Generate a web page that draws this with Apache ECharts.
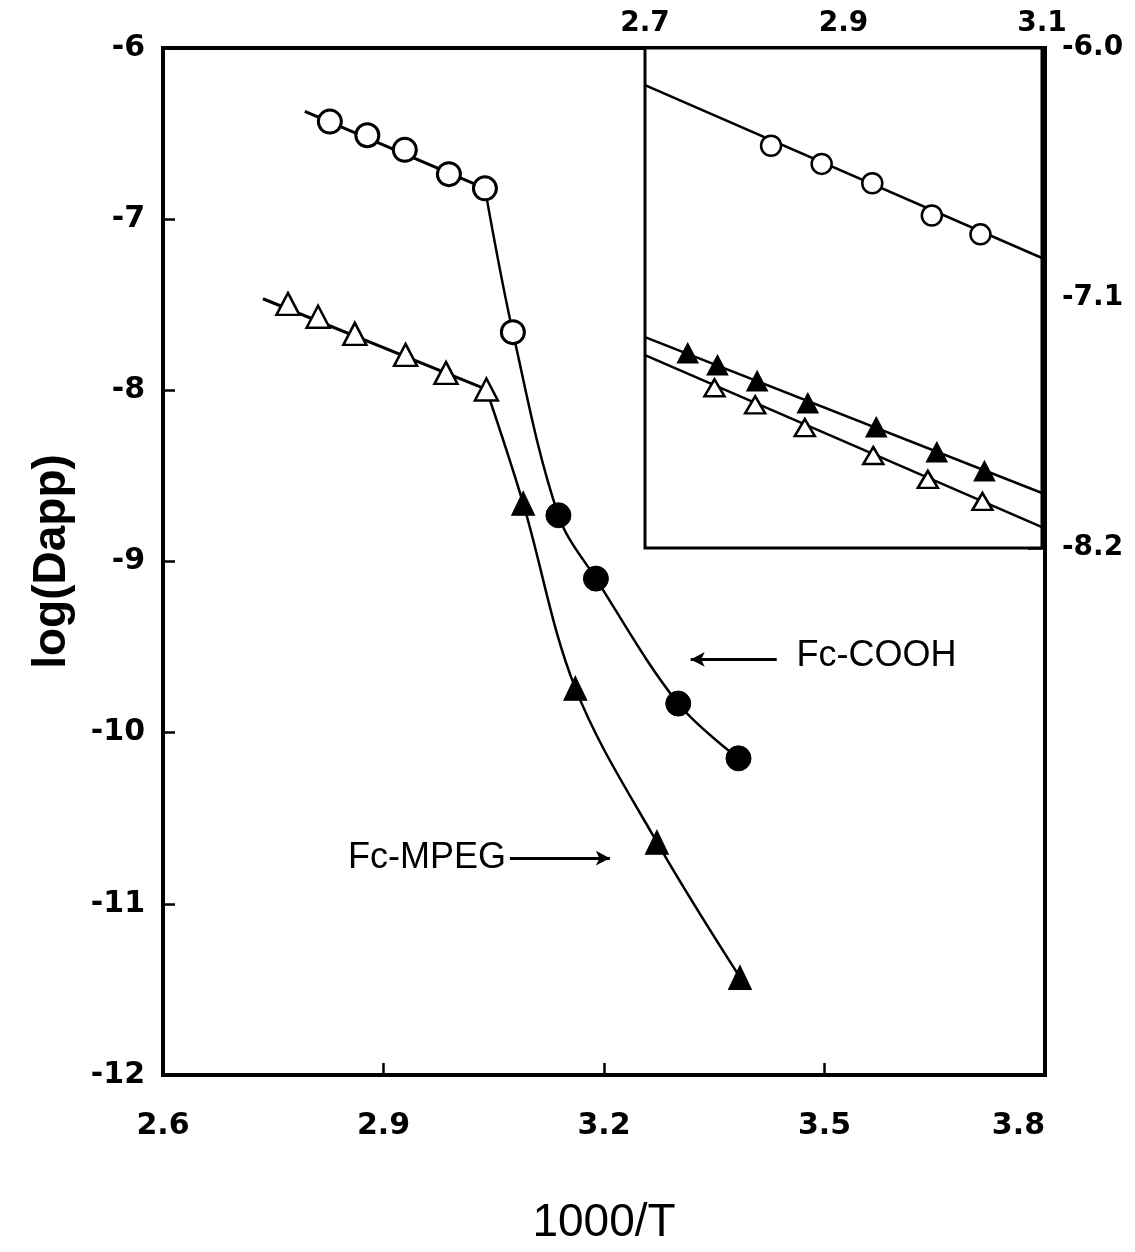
<!DOCTYPE html>
<html><head><meta charset="utf-8">
<script src="https://cdn.jsdelivr.net/npm/echarts@6/dist/echarts.min.js"></script>
<style>html,body{margin:0;padding:0;background:#fff}#c{width:1135px;height:1252px}</style>
</head><body><div id="c"></div>
<script>
// ---------- data ----------
// Fc-COOH
const coohOpenX   = [2.827, 2.878, 2.929, 2.989, 3.038];
const coohOpenY   = [-6.43, -6.51, -6.595, -6.737, -6.82];
const coohKneeX   = [3.076];
const coohKneeY   = [-7.66];
const coohFilledX = [3.138, 3.189, 3.301, 3.383];
const coohFilledY = [-8.73, -9.10, -9.83, -10.15];
// Fc-MPEG
const mpegOpenX   = [2.770, 2.811, 2.861, 2.930, 2.985, 3.040];
const mpegOpenY   = [-7.495, -7.570, -7.670, -7.793, -7.898, -7.995];
const mpegFilledX = [3.090, 3.161, 3.272, 3.385];
const mpegFilledY = [-8.66, -9.74, -10.64, -11.43];
// inset: second (filled) Fc-MPEG run
const mpegInsetFilledX = [2.743, 2.773, 2.813, 2.864, 2.933, 2.994, 3.042];
const mpegInsetFilledY = [-7.342, -7.395, -7.465, -7.562, -7.668, -7.778, -7.861];
// fitted straight lines (end points)
const coohFitMainX = [2.793, 3.038];   const coohFitMainY = [-6.37, -6.82];
const mpegFitMainX = [2.736, 3.040];   const mpegFitMainY = [-7.465, -7.995];
const coohFitInsetX = [2.7, 3.1];      const coohFitInsetY = [-6.163, -6.924];
const mpegFilledFitInsetX = [2.7, 3.1]; const mpegFilledFitInsetY = [-7.272, -7.958];
const mpegOpenFitInsetX = [2.7, 3.1];  const mpegOpenFitInsetY = [-7.351, -8.108];
// axes / ticks
const mainXTicks = ['2.6','2.9','3.2','3.5','3.8'];
const mainYTicks = ['-12','-11','-10','-9','-8','-7','-6'];
const insetXTicks = ['2.7','2.9','3.1'];
const insetYTicks = ['-8.2','-7.1','-6.0'];
// annotations (data coords)
const coohLabel = {text:'Fc-COOH', x:3.462, y:-9.55, arrowFrom:[3.435,-9.572], arrowTo:[3.318,-9.572]};
const mpegLabel = {text:'Fc-MPEG', x:3.072, y:-10.733, arrowFrom:[3.072,-10.733], arrowTo:[3.208,-10.733]};

// ---------- helpers ----------
const zip = (xs, ys) => xs.map((x, i) => [x, ys[i]]);
const FONT = 'Liberation Sans';
const TICKFONT = 'DejaVu Sans';
const BLACK = '#000';

const coohCurve = [[coohOpenX[coohOpenX.length-1], coohOpenY[coohOpenY.length-1]]]
  .concat(zip(coohKneeX, coohKneeY), zip(coohFilledX, coohFilledY));
const mpegCurve = [[mpegOpenX[mpegOpenX.length-1], mpegOpenY[mpegOpenY.length-1]]]
  .concat(zip(mpegFilledX, mpegFilledY));

function lineSeries(data, xi, w, smooth) {
  return {type:'line', xAxisIndex:xi, yAxisIndex:xi, data, symbol:'none', smooth: smooth || false,
          lineStyle:{color:BLACK, width:w}, silent:true, z:2};
}
function scatter(data, xi, symbol, size, filled, bw) {
  return {type:'scatter', xAxisIndex:xi, yAxisIndex:xi, data, symbol, symbolSize:size, silent:true, z:4,
          itemStyle:{color: filled ? BLACK : '#fff', borderColor:BLACK, borderWidth: bw, opacity:1}};
}
const tickLabel = (fs) => ({color:BLACK, fontFamily:TICKFONT, fontWeight:'bold', fontSize:fs});

const chart = echarts.init(document.getElementById('c'), null, {renderer:'canvas'});
const annotSeries = {
  type:'scatter', xAxisIndex:0, yAxisIndex:0, data:[], silent:true,
  markLine:{silent:true, animation:false, symbol:['none','arrow'], symbolSize:[11,14],
    lineStyle:{color:BLACK, width:3, type:'solid'}, label:{show:false},
    data:[[{coord:coohLabel.arrowFrom},{coord:coohLabel.arrowTo}],
          [{coord:mpegLabel.arrowFrom},{coord:mpegLabel.arrowTo}]]},
  markPoint:{silent:true, animation:false, symbol:'circle', symbolSize:0,
    data:[
      {coord:[coohLabel.x, coohLabel.y], label:{show:true, position:'right', distance:0, formatter:coohLabel.text,
        color:BLACK, fontFamily:FONT, fontSize:36}},
      {coord:[mpegLabel.x, mpegLabel.y], label:{show:true, position:'left', distance:4, formatter:mpegLabel.text,
        color:BLACK, fontFamily:FONT, fontSize:36}}
    ]}
};

chart.setOption({
  animation:false,
  backgroundColor:'#fff',
  grid:[
    {left:163, top:48, width:882, height:1027, show:true, borderColor:BLACK, borderWidth:4, backgroundColor:'transparent'},
    {left:645, top:48, width:397, height:500, show:true, borderColor:BLACK, borderWidth:3, backgroundColor:'#fff', z:3}
  ],
  xAxis:[
    {gridIndex:0, type:'value', min:2.6, max:3.8, interval:0.3, position:'bottom',
     axisLine:{show:true, onZero:false, lineStyle:{color:BLACK, width:4}},
     axisTick:{show:true, inside:true, length:12, lineStyle:{color:BLACK, width:2.5}},
     axisLabel:Object.assign(tickLabel(30), {margin:36, alignMaxLabel:'right',
       formatter:(v)=>mainXTicks[Math.round((v-2.6)/0.3)]}),
     splitLine:{show:false},
     name:'1000/T', nameLocation:'middle', nameGap:125,
     nameTextStyle:{color:BLACK, fontFamily:FONT, fontSize:46}},
    {gridIndex:1, type:'value', min:2.7, max:3.1, interval:0.2, position:'top',
     axisLine:{show:true, onZero:false, lineStyle:{color:BLACK, width:3}},
     axisTick:{show:true, inside:true, length:12, lineStyle:{color:BLACK, width:2.5}},
     axisLabel:Object.assign(tickLabel(28), {margin:10,
       formatter:(v)=>insetXTicks[Math.round((v-2.7)/0.2)]}),
     splitLine:{show:false}}
  ],
  yAxis:[
    {gridIndex:0, type:'value', min:-12, max:-6, interval:1, position:'left',
     axisLine:{show:true, onZero:false, lineStyle:{color:BLACK, width:4}},
     axisTick:{show:true, inside:true, length:12, lineStyle:{color:BLACK, width:2.5}},
     axisLabel:Object.assign(tickLabel(30), {margin:18,
       formatter:(v)=>mainYTicks[Math.round(v+12)]}),
     splitLine:{show:false},
     name:'log(Dapp)', nameLocation:'middle', nameGap:88, nameRotate:90,
     nameTextStyle:{color:BLACK, fontFamily:FONT, fontSize:46, fontWeight:'bold'}},
    {gridIndex:1, type:'value', min:-8.2, max:-6.0, interval:1.1, position:'right',
     axisLine:{show:true, onZero:false, lineStyle:{color:BLACK, width:3}},
     axisTick:{show:true, inside:true, length:14, lineStyle:{color:BLACK, width:2.5}},
     axisLabel:Object.assign(tickLabel(28), {margin:20,
       formatter:(v)=>insetYTicks[Math.round((v+8.2)/1.1)]}),
     splitLine:{show:false}}
  ],
  series:[
    // main plot lines
    lineSeries(zip(coohFitMainX, coohFitMainY), 0, 3),
    lineSeries(coohCurve, 0, 2.5, 0.35),
    lineSeries(zip(mpegFitMainX, mpegFitMainY), 0, 3),
    lineSeries(mpegCurve, 0, 2.5, 0.35),
    // main plot markers
    scatter(zip(coohOpenX, coohOpenY).concat(zip(coohKneeX, coohKneeY)), 0, 'circle', 23, false, 3),
    scatter(zip(coohFilledX, coohFilledY), 0, 'circle', 25, true, 1),
    scatter(zip(mpegOpenX, mpegOpenY), 0, 'triangle', [23, 22], false, 2.5),
    scatter(zip(mpegFilledX, mpegFilledY), 0, 'triangle', [23, 24], true, 1),
    // inset lines
    Object.assign(lineSeries(zip(coohFitInsetX, coohFitInsetY), 1, 2.5), {z:5}),
    Object.assign(lineSeries(zip(mpegFilledFitInsetX, mpegFilledFitInsetY), 1, 2.5), {z:5}),
    Object.assign(lineSeries(zip(mpegOpenFitInsetX, mpegOpenFitInsetY), 1, 2.5), {z:5}),
    // inset markers
    Object.assign(scatter(zip(coohOpenX, coohOpenY), 1, 'circle', 20, false, 2.5), {z:6}),
    Object.assign(scatter(zip(mpegInsetFilledX, mpegInsetFilledY), 1, 'triangle', [21, 20], true, 1), {z:6}),
    Object.assign(scatter(zip(mpegOpenX, mpegOpenY), 1, 'triangle', [20, 17], false, 2.5), {z:6}),
    annotSeries
  ]
});
</script></body></html>
